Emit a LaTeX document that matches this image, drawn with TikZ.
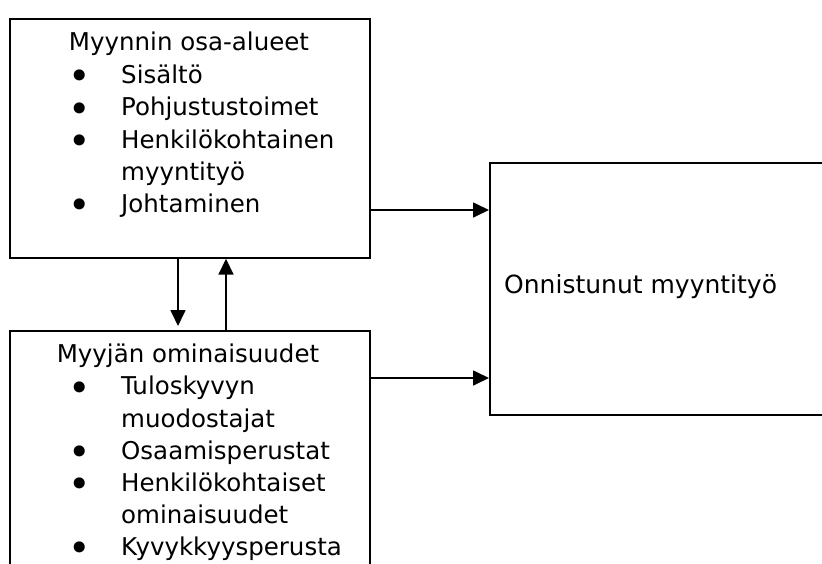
\documentclass[tikz,border=0pt]{standalone}
\usepackage{fontspec}
\setmainfont{DejaVu Sans}
\usetikzlibrary{arrows.meta}
\begin{document}
\begin{tikzpicture}[x=1pt,y=-1pt,
  box/.style={draw,line width=1.7pt,rectangle,inner sep=0pt,anchor=north west},
  txt/.style={anchor=base west,inner sep=0pt,font=\fontsize{24.5}{30}\selectfont},
  ttl/.style={anchor=base,inner sep=0pt,font=\fontsize{24.5}{30}\selectfont},
  bul/.style={anchor=base,inner sep=0pt,font=\fontsize{38}{38}\selectfont},
  conn/.style={line width=1.7pt,-{Triangle[length=16pt 0 0,width=15pt 0 0]}}]
\useasboundingbox (0,0) rectangle (822,563);
\clip (0,0) rectangle (822,563);
% boxes
\node[box,minimum width=360pt,minimum height=239pt] (top) at (9,18) {};
\node[box,minimum width=360pt,minimum height=300pt] (bot) at (9,330) {};
\node[box,minimum width=333pt,minimum height=252pt] (res) at (489,162) {};
% top box text
\node[ttl] (t0) at (189,50) {Myynnin osa-alueet};
\node[bul] (tb1) at (80,89.8) {\smash{•}};
\node[txt] (t1) at (121,83) {Sisältö};
\node[bul] (tb2) at (80,122.3) {\smash{•}};
\node[txt] (t2) at (121,115.5) {Pohjustustoimet};
\node[bul] (tb3) at (80,154.8) {\smash{•}};
\node[txt] (t3) at (121,148) {Henkilökohtainen};
\node[txt] (t4) at (121,180) {myyntityö};
\node[bul] (tb5) at (80,218.8) {\smash{•}};
\node[txt] (t5) at (121,212) {Johtaminen};
% bottom box text
\node[ttl] (b0) at (188,362) {Myyjän ominaisuudet};
\node[bul] (bb1) at (80,401.3) {\smash{•}};
\node[txt] (b1) at (121,394.5) {Tuloskyvyn};
\node[txt] (b2) at (121,427) {muodostajat};
\node[bul] (bb3) at (80,465.8) {\smash{•}};
\node[txt] (b3) at (121,459) {Osaamisperustat};
\node[bul] (bb4) at (80,497.8) {\smash{•}};
\node[txt] (b4) at (121,491) {Henkilökohtaiset};
\node[txt] (b5) at (121,523) {ominaisuudet};
\node[bul] (bb6) at (80,561.8) {\smash{•}};
\node[txt] (b6) at (121,555) {Kyvykkyysperusta};
% result text
\node[txt,font=\fontsize{25}{30}\selectfont] (r0) at (504,293) {Onnistunut myyntityö};
% connectors
\coordinate (h1) at (0,210);
\coordinate (h2) at (0,378);
\coordinate (v1) at (178,0);
\coordinate (v2) at (226,0);
\draw[conn] (top.east |- h1) -- (res.west |- h1);
\draw[conn] (bot.east |- h2) -- (res.west |- h2);
\draw[conn] (top.south -| v1) -- ([yshift=4pt]bot.north -| v1);
\draw[conn] (bot.north -| v2) -- (top.south -| v2);
\end{tikzpicture}
\end{document}
